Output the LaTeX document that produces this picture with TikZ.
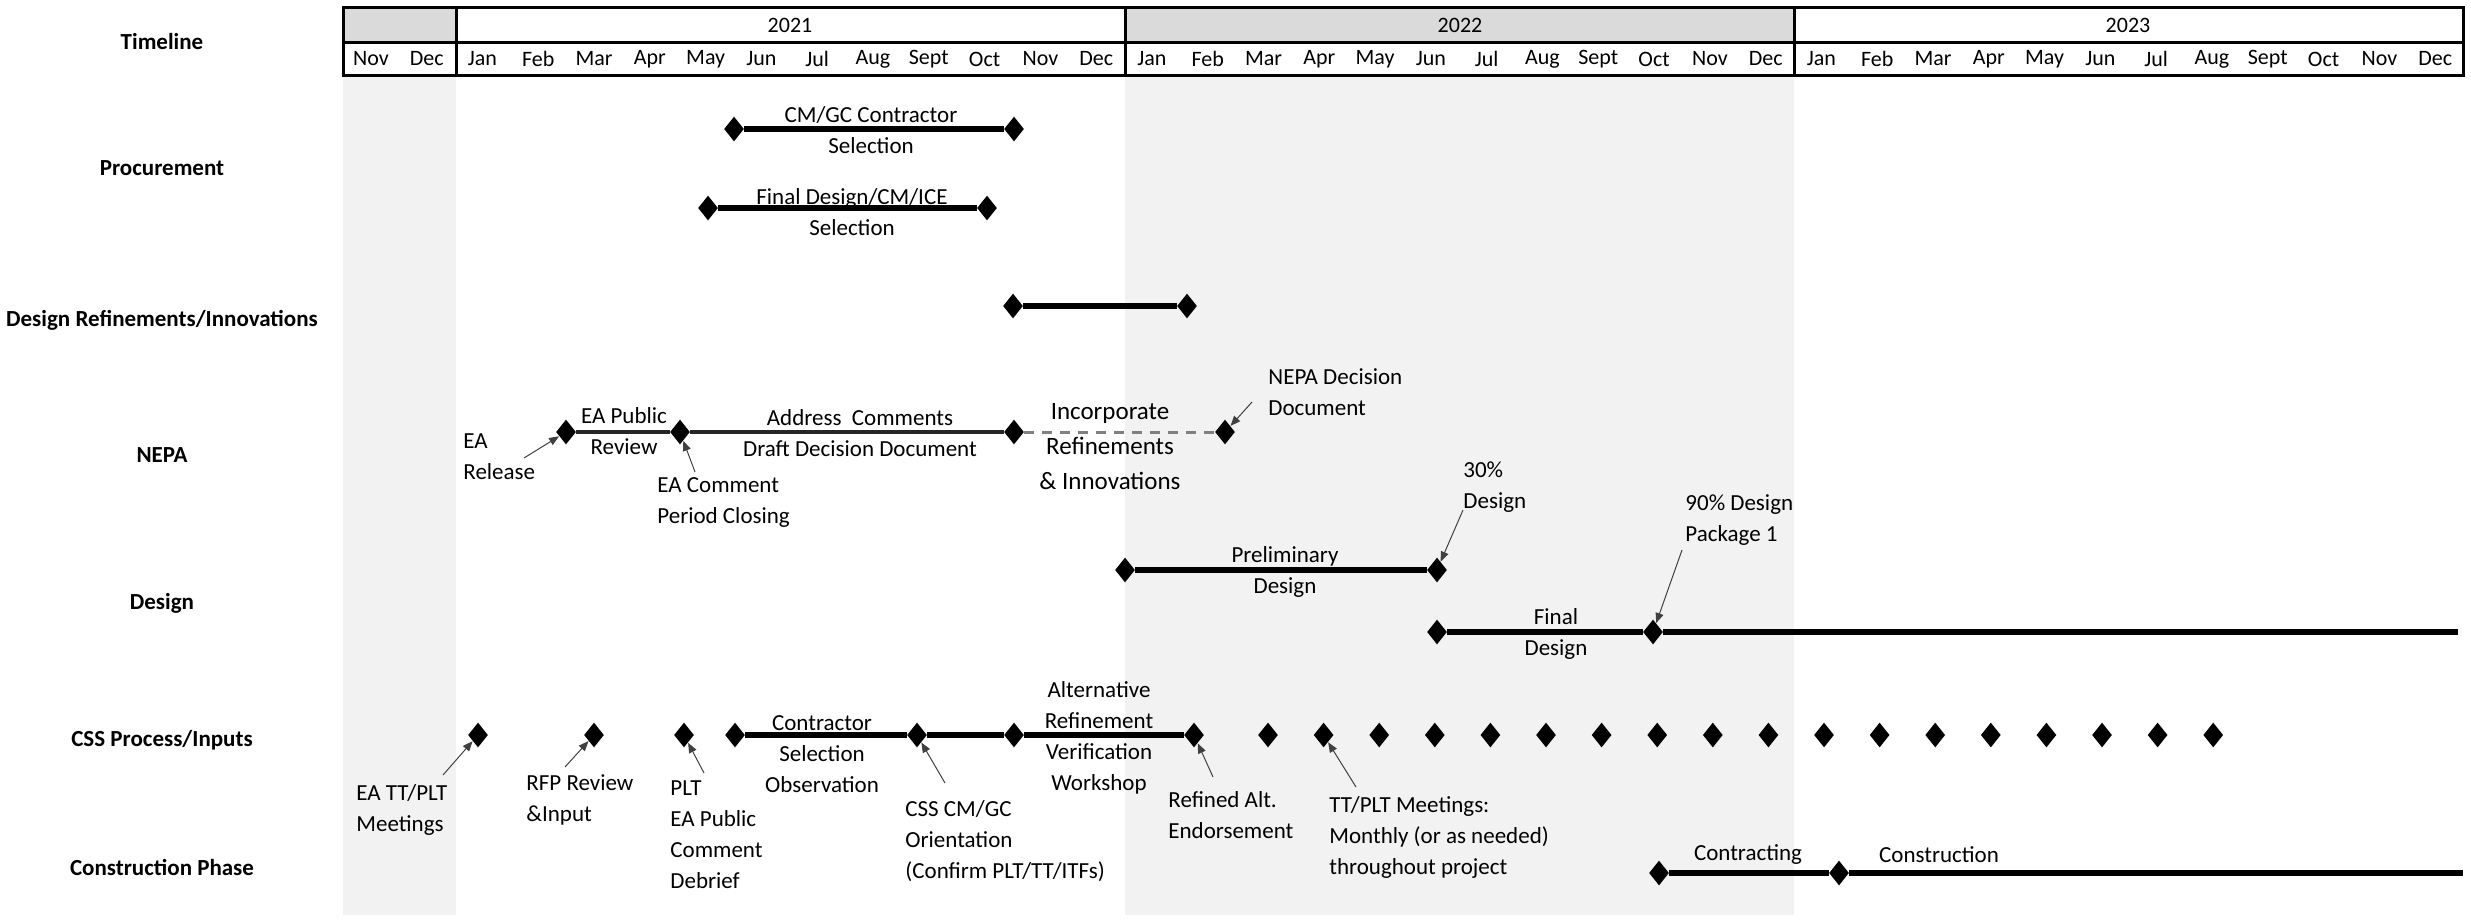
\documentclass[tikz,border=0pt]{standalone}
\usepackage{fontspec}
\setmainfont{Carlito}
\usetikzlibrary{shapes.geometric,arrows.meta}
\definecolor{bgc}{RGB}{242,242,242}
\definecolor{hdrc}{RGB}{218,218,218}
\begin{document}
\begin{tikzpicture}[x=0.5pt,y=-0.5pt,
  ms/.style={shape=diamond,fill=black,draw=none,inner sep=0pt,minimum width=10pt,minimum height=12.5pt},
  bar/.style={line width=3pt,black},
  nepabar/.style={line width=2.3pt,black!85},
  dashbar/.style={line width=1.5pt,black!50,dash pattern=on 5pt off 4pt},
  callout/.style={line width=0.5pt,black!75,-{Triangle[length=5pt,width=4pt]}},
  lbl/.style={font=\fontsize{11.5}{15.5}\selectfont,inner sep=0pt,align=center},
  lbll/.style={font=\fontsize{11.5}{15.5}\selectfont,inner sep=0pt,align=left,anchor=west},
  biglbl/.style={font=\fontsize{12.5}{17.5}\selectfont,inner sep=0pt,align=center},
  rowlbl/.style={font=\fontsize{11.5}{14}\selectfont\bfseries,inner sep=0pt},
  month/.style={font=\fontsize{11}{13}\selectfont,inner sep=0pt},
  grid/.style={line width=1.5pt,black}
]
\useasboundingbox (0,0) rectangle (2471,922);
% background shading
\fill[bgc] (343,75) rectangle (456,915);
\fill[bgc] (1125,75) rectangle (1794,915);
% header table
\fill[hdrc] (343,7) rectangle (456,42);
\fill[hdrc] (1125,7) rectangle (1794,42);
\draw[grid] (343,7) rectangle (2463,75);
\draw[grid] (343,42) -- (2463,42);
\draw[grid] (456,7) -- (456,75);
\draw[grid] (1125,7) -- (1125,75);
\draw[grid] (1794,7) -- (1794,75);
\node[month] (y2021) at (790,25) {2021};
\node[month] (y2022) at (1460,25) {2022};
\node[month] (y2023) at (2128,25) {2023};
\foreach \m [count=\i from 0] in {Nov,Dec,Jan,Feb,Mar,Apr,May,Jun,Jul,Aug,Sept,Oct,Nov,Dec,Jan,Feb,Mar,Apr,May,Jun,Jul,Aug,Sept,Oct,Nov,Dec,Jan,Feb,Mar,Apr,May,Jun,Jul,Aug,Sept,Oct,Nov,Dec}
  \node[month] (mo\i) at ({343+55.79*(\i+0.5)},59) {\m};
% row labels
\node[rowlbl] (rTimeline) at (162,42) {Timeline};
\node[rowlbl] (rProc) at (162,168) {Procurement};
\node[rowlbl] (rDRI) at (162,320) {Design Refinements/Innovations};
\node[rowlbl] (rNEPA) at (162,455) {NEPA};
\node[rowlbl] (rDesign) at (162,603) {Design};
\node[rowlbl] (rCSS) at (162,740) {CSS Process/Inputs};
\node[rowlbl] (rCons) at (162,867) {Construction Phase};
% Procurement
\node[ms] (p1a) at (734,129) {};
\node[ms] (p1b) at (1014,129) {};
\draw[bar] (p1a) -- (p1b);
\node[lbl] (p1t) at (871,130) {CM/GC Contractor\\Selection};
\node[ms] (p2a) at (708,208) {};
\node[ms] (p2b) at (987,208) {};
\draw[bar] (p2a) -- (p2b);
\node[lbl] (p2t) at (852,212) {Final Design/CM/ICE\\Selection};
% Design refinements
\node[ms] (dr1) at (1013,306) {};
\node[ms] (dr2) at (1187,306) {};
\draw[bar] (dr1) -- (dr2);
% NEPA
\node[ms] (nd1) at (566,432) {};
\node[ms] (nd2) at (680,432) {};
\node[ms] (nd3) at (1014,432) {};
\node[ms] (nd4) at (1225,432) {};
\draw[nepabar] (nd1) -- (nd2);
\draw[nepabar] (nd2) -- (nd3);
\draw[dashbar] (nd3) -- (nd4);
\node[lbll] (ntEA) at (463,457) {EA\\Release};
\node[lbl] (ntPub) at (624,431) {EA Public\\Review};
\node[lbll] (ntCom) at (657,503) {EA Comment\\Period Closing};
\node[lbl] (ntAddr) at (860,433) {Address\ \ Comments\\Draft Decision Document};
\node[biglbl] (ntInc) at (1110,447) {Incorporate\\Refinements\\\& Innovations};
\node[lbll] (ntDec) at (1268,392) {NEPA Decision\\Document};
\coordinate (cEA) at (524,458);
\coordinate (cCom) at (695,472);
\coordinate (cDec) at (1252,402);
\draw[callout] (cEA) -- (nd1);
\draw[callout] (cCom) -- (nd2);
\draw[callout] (cDec) -- (nd4);
% Design
\node[ms] (pd1) at (1125,570) {};
\node[ms] (pd2) at (1437,570) {};
\draw[bar] (pd1) -- (pd2);
\node[lbl] (tPre) at (1285,572) {Preliminary\\Design};
\node[ms] (fd1) at (1437,632) {};
\node[ms] (fd2) at (1653,632) {};
\coordinate (fdEnd) at (2458,632);
\draw[bar] (fd1) -- (fd2);
\draw[bar] (fd2) -- (fdEnd);
\node[lbl] (tFin) at (1556,634) {Final\\Design};
\node[lbll] (t30) at (1463,487) {30\%\\Design};
\node[lbll] (t90) at (1685,520) {90\% Design\\Package 1};
\coordinate (c30) at (1463,510);
\coordinate (c90) at (1682,550);
\draw[callout] (c30) -- (pd2);
\draw[callout] (c90) -- (fd2);
% CSS
\node[ms] (c1) at (478,735) {};
\node[ms] (c2) at (594,735) {};
\node[ms] (c3) at (684,735) {};
\node[ms] (c4) at (735,735) {};
\node[ms] (c5) at (917,735) {};
\node[ms] (c6) at (1014,735) {};
\node[ms] (c7) at (1194,735) {};
\draw[bar] (c4) -- (c5);
\draw[bar] (c5) -- (c6);
\draw[bar] (c6) -- (c7);
\foreach \k in {0,...,17}
  \node[ms] (mm\k) at ({1268+55.6*\k},735) {};
\node[lbll] (tEATT) at (356,810) {EA TT/PLT\\Meetings};
\node[lbll] (tRFP) at (526,800) {RFP Review\\\&Input};
\node[lbll] (tPLT) at (670,835) {PLT\\EA Public\\Comment\\Debrief};
\node[lbl] (tCSO) at (822,754) {Contractor\\Selection\\Observation};
\node[lbll] (tOri) at (905,841) {CSS CM/GC\\Orientation\\(Confirm PLT/TT/ITFs)};
\node[lbl] (tAlt) at (1099,738) {Alternative\\Refinement\\Verification\\Workshop};
\node[lbll] (tRef) at (1168,815) {Refined Alt.\\Endorsement};
\node[lbll] (tTT) at (1329,837) {TT/PLT Meetings:\\Monthly (or as needed)\\throughout project};
\coordinate (cc1) at (443,775);
\coordinate (cc2) at (565,767);
\coordinate (cc3) at (704,773);
\coordinate (cc5) at (945,783);
\coordinate (cc7) at (1213,777);
\coordinate (ccm) at (1356,787);
\draw[callout] (cc1) -- (c1);
\draw[callout] (cc2) -- (c2);
\draw[callout] (cc3) -- (c3);
\draw[callout] (cc5) -- (c5);
\draw[callout] (cc7) -- (c7);
\draw[callout] (ccm) -- (mm1);
% Construction
\node[ms] (k1) at (1659,873) {};
\node[ms] (k2) at (1839,873) {};
\coordinate (kEnd) at (2463,873);
\draw[bar] (k1) -- (k2);
\draw[bar] (k2) -- (kEnd);
\node[lbl] (tCtr) at (1748,855) {Contracting};
\node[lbl] (tCon) at (1939,855) {Construction};
\end{tikzpicture}
\end{document}
